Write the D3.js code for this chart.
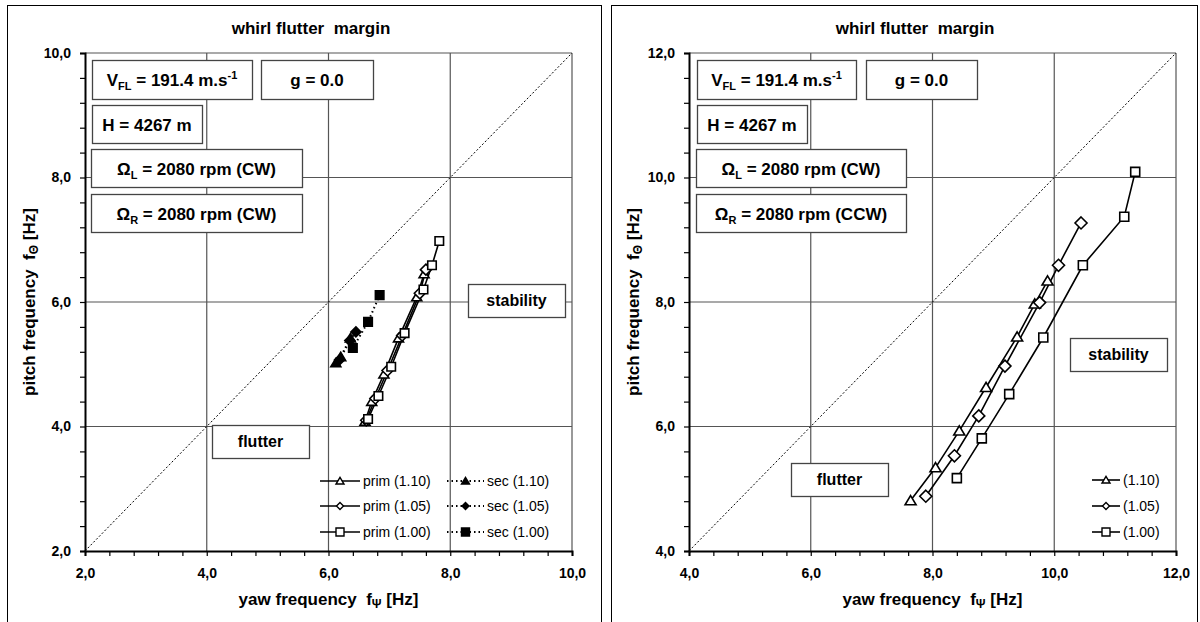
<!DOCTYPE html>
<html><head><meta charset="utf-8">
<script src="https://cdn.jsdelivr.net/npm/d3@7"></script>
<style>
html,body{margin:0;padding:0;background:#fff;}
svg{display:block;font-family:"Liberation Sans",Arial,sans-serif;}
</style></head><body>
<svg id="c" width="1200" height="622"></svg>
<script>
// ---------- DATA ----------
const leftXTicks = [2, 4, 6, 8, 10];
const leftYTicks = [2, 4, 6, 8, 10];
const rightXTicks = [4, 6, 8, 10, 12];
const rightYTicks = [4, 6, 8, 10, 12];

// left chart: CW/CW  [yaw Hz, pitch Hz]
const L_prim110 = [[6.60,4.08],[6.71,4.40],[6.91,4.84],[7.15,5.42],[7.45,6.08],[7.57,6.45]];
const L_prim105 = [[6.62,4.10],[6.77,4.45],[6.97,4.90],[7.21,5.46],[7.50,6.14],[7.60,6.52]];
const L_prim100 = [[6.65,4.12],[6.82,4.49],[7.03,4.96],[7.25,5.50],[7.56,6.20],[7.70,6.59],[7.82,6.98]];
const L_sec110 = [[6.12,5.02],[6.20,5.12],[6.36,5.42]];
const L_sec105 = [[6.18,5.07],[6.35,5.38],[6.45,5.52]];
const L_sec100 = [[6.40,5.26],[6.65,5.68],[6.84,6.11]];

// right chart: CW/CCW
const R_s110 = [[7.64,4.81],[8.05,5.34],[8.44,5.93],[8.88,6.63],[9.39,7.44],[9.68,7.97],[9.89,8.34]];
const R_s105 = [[7.89,4.88],[8.36,5.53],[8.76,6.17],[9.19,6.97],[9.76,7.99],[10.07,8.59],[10.44,9.27]];
const R_s100 = [[8.40,5.17],[8.81,5.81],[9.26,6.52],[9.82,7.43],[10.47,8.59],[11.15,9.37],[11.33,10.09]];

const leftLegend = ["prim (1.10)", "prim (1.05)", "prim (1.00)", "sec (1.10)", "sec (1.05)", "sec (1.00)"];
const rightLegend = ["(1.10)", "(1.05)", "(1.00)"];
const titleText = "whirl flutter  margin";
const leftOmegaR = "2080 rpm (CW)";
const rightOmegaR = "2080 rpm (CCW)";

// ---------- DRAW ----------
const svg = d3.select("#c");
const fmt = d => d.toFixed(1).replace(".", ",");

function sym(type, s) {
  const p = d3.path();
  if (type === "square") { p.rect(-s/2, -s/2, s, s); }
  else if (type === "diamond") { p.moveTo(0,-s/2); p.lineTo(s/2,0); p.lineTo(0,s/2); p.lineTo(-s/2,0); p.closePath(); }
  else { p.moveTo(0,-s*0.45); p.lineTo(s/2,s*0.38); p.lineTo(-s/2,s*0.38); p.closePath(); }
  return p.toString();
}

function panel(cfg) {
  const g = svg.append("g");
  // panel frame
  g.append("rect").attr("x", cfg.px + 0.5).attr("y", 5.5).attr("width", cfg.pw).attr("height", 640)
    .attr("fill", "none").attr("stroke", "#000").attr("stroke-width", 1);

  const x = d3.scaleLinear().domain(cfg.dom).range([cfg.x0, cfg.x1]);
  const y = d3.scaleLinear().domain(cfg.dom).range([551, 53]);

  // grid
  const grid = g.append("g").attr("stroke", "#555").attr("stroke-width", 1.2);
  cfg.xt.slice(1).forEach(v => grid.append("line").attr("x1", x(v)).attr("x2", x(v)).attr("y1", y.range()[0]).attr("y2", y.range()[1]));
  cfg.yt.slice(1).forEach(v => grid.append("line").attr("y1", y(v)).attr("y2", y(v)).attr("x1", cfg.x0).attr("x2", cfg.x1));

  // diagonal
  g.append("line").attr("x1", x(cfg.dom[0])).attr("y1", y(cfg.dom[0])).attr("x2", x(cfg.dom[1])).attr("y2", y(cfg.dom[1]))
    .attr("stroke", "#000").attr("stroke-width", 1).attr("stroke-dasharray", "2,2");

  // title
  g.append("text").attr("x", cfg.tx).attr("y", 34).attr("text-anchor", "middle")
    .attr("font-size", 17).attr("font-weight", "bold").style("white-space", "pre").text(titleText);

  // text boxes
  function box(bx, by, bw, bh, build) {
    g.append("rect").attr("x", bx + 0.5).attr("y", by + 0.5).attr("width", bw).attr("height", bh)
      .attr("fill", "#fff").attr("stroke", "#444").attr("stroke-width", 1.3);
    const t = g.append("text").attr("x", bx + bw / 2).attr("y", by + bh / 2 + 6.5).attr("text-anchor", "middle")
      .attr("font-size", 17).attr("font-weight", "bold");
    build(t);
  }
  const b = cfg.boxes;
  box(b.v[0], 60, b.v[1], 39, t => { t.append("tspan").text("V"); t.append("tspan").attr("font-size", 11).attr("dy", 4).text("FL"); t.append("tspan").attr("dy", -4).text(" = 191.4 m.s"); t.append("tspan").attr("font-size", 11).attr("dy", -7).text("-1"); });
  box(b.g[0], 60, b.g[1], 39, t => t.text("g = 0.0"));
  box(b.h[0], 105, b.h[1], 38, t => t.text("H = 4267 m"));
  box(b.o[0], 149, b.o[1], 38, t => { t.append("tspan").text("Ω"); t.append("tspan").attr("font-size", 11).attr("dy", 4).text("L"); t.append("tspan").attr("dy", -4).text(" = 2080 rpm (CW)"); });
  box(b.o[0], 194, b.o[1], 38, t => { t.append("tspan").text("Ω"); t.append("tspan").attr("font-size", 11).attr("dy", 4).text("R"); t.append("tspan").attr("dy", -4).text(" = " + cfg.omegaR); });
  box(b.st[0], b.st[1], 97, 33, t => t.attr("font-size", 16).attr("y", b.st[1] + 22).text("stability"));
  box(b.fl[0], b.fl[1], 97, 33, t => t.attr("font-size", 16).attr("y", b.fl[1] + 22).text("flutter"));

  const line = d3.line().x(d => x(d[0])).y(d => y(d[1]));
  // series
  cfg.series.forEach(s => {
    g.append("path").attr("d", line(s.data)).attr("fill", "none").attr("stroke", "#000")
      .attr("stroke-width", s.dotted ? 2 : 1.6).attr("stroke-dasharray", s.dotted ? "1.5,3" : null);
  });
  cfg.series.forEach(s => {
    g.selectAll(null).data(s.data).enter().append("path")
      .attr("transform", d => `translate(${x(d[0])},${y(d[1])})`)
      .attr("d", sym(s.shape, s.size))
      .attr("fill", s.dotted ? "#000" : "#fff").attr("stroke", "#000").attr("stroke-width", 1.6);
  });

  // legend
  cfg.legend.forEach(l => {
    const lg = g.append("g").attr("transform", `translate(${l.x},${l.y})`);
    lg.append("line").attr("x1", 0).attr("x2", l.len).attr("stroke", "#000")
      .attr("stroke-width", l.dotted ? 2 : 1.6).attr("stroke-dasharray", l.dotted ? "1.5,3" : null);
    lg.append("path").attr("transform", `translate(${l.len / 2},0)`).attr("d", sym(l.shape, l.size))
      .attr("fill", l.dotted ? "#000" : "#fff").attr("stroke", "#000").attr("stroke-width", 1.4);
    lg.append("text").attr("x", l.len + 3).attr("y", 5).attr("font-size", 14).text(l.label);
  });

  // axes
  const xMinor = d3.range(cfg.dom[0], cfg.dom[1] + 0.001, 0.4);
  const ax = g.append("g").attr("transform", "translate(0,551)")
    .call(d3.axisBottom(x).tickValues(xMinor).tickSize(5).tickFormat(""));
  const ay = g.append("g").attr("transform", `translate(${cfg.x0},0)`)
    .call(d3.axisLeft(y).tickValues(xMinor).tickSize(5).tickFormat(""));
  [ax, ay].forEach(a => { a.select(".domain").attr("stroke-width", 2); a.selectAll(".tick line").attr("stroke-width", 1.2); });
  const axL = g.append("g").attr("transform", "translate(0,551)")
    .call(d3.axisBottom(x).tickValues(cfg.xt).tickSize(0).tickPadding(17).tickFormat(fmt));
  axL.select(".domain").remove();
  axL.selectAll("text").attr("font-size", 14).attr("font-weight", "bold").attr("font-family", "Liberation Sans, Arial, sans-serif").attr("fill", "#000");
  const ayL = g.append("g").attr("transform", `translate(${cfg.x0},0)`)
    .call(d3.axisLeft(y).tickValues(cfg.yt).tickSize(0).tickPadding(14).tickFormat(fmt));
  ayL.select(".domain").remove();
  ayL.selectAll("text").attr("font-size", 14).attr("font-weight", "bold").attr("font-family", "Liberation Sans, Arial, sans-serif").attr("fill", "#000");

  // axis titles
  const xl = g.append("text").attr("x", (cfg.x0 + cfg.x1) / 2).attr("y", 605).attr("text-anchor", "middle")
    .attr("font-size", 17).attr("font-weight", "bold").style("white-space", "pre");
  xl.append("tspan").text("yaw frequency  f");
  xl.append("tspan").attr("font-size", 12).attr("dy", 3).text("Ψ");
  xl.append("tspan").attr("dy", -3).text(" [Hz]");
  const yl = g.append("text").attr("transform", `translate(${cfg.px + 28},302) rotate(-90)`).attr("text-anchor", "middle")
    .attr("font-size", 17).attr("font-weight", "bold").style("white-space", "pre");
  yl.append("tspan").text("pitch frequency  f");
  yl.append("tspan").attr("font-size", 12).attr("dy", 3).text("Θ");
  yl.append("tspan").attr("dy", -3).text(" [Hz]");
}

panel({
  px: 7, pw: 594, dom: [2, 10], x0: 85, x1: 572, xt: leftXTicks, yt: leftYTicks, tx: 311,
  omegaR: leftOmegaR,
  boxes: { v: [92, 160], g: [261, 112], h: [92, 110], o: [91, 211], st: [468, 284], fl: [212, 425] },
  series: [
    { data: L_prim110, shape: "triangle", size: 10, dotted: false },
    { data: L_prim105, shape: "diamond", size: 11, dotted: false },
    { data: L_prim100, shape: "square", size: 8.5, dotted: false },
    { data: L_sec110, shape: "triangle", size: 10, dotted: true },
    { data: L_sec105, shape: "diamond", size: 10, dotted: true },
    { data: L_sec100, shape: "square", size: 8.5, dotted: true }
  ],
  legend: [
    { x: 320, y: 481, len: 40, shape: "triangle", size: 8, dotted: false, label: leftLegend[0] },
    { x: 320, y: 506, len: 40, shape: "diamond", size: 7, dotted: false, label: leftLegend[1] },
    { x: 320, y: 532, len: 40, shape: "square", size: 8, dotted: false, label: leftLegend[2] },
    { x: 447, y: 481, len: 37, shape: "triangle", size: 8, dotted: true, label: leftLegend[3] },
    { x: 447, y: 506, len: 37, shape: "diamond", size: 7, dotted: true, label: leftLegend[4] },
    { x: 447, y: 532, len: 37, shape: "square", size: 8, dotted: true, label: leftLegend[5] }
  ]
});

panel({
  px: 611, pw: 586, dom: [4, 12], x0: 689, x1: 1176, xt: rightXTicks, yt: rightYTicks, tx: 915,
  omegaR: rightOmegaR,
  boxes: { v: [697, 159], g: [866, 111], h: [697, 110], o: [696, 210], st: [1070, 338], fl: [791, 463] },
  series: [
    { data: R_s110, shape: "triangle", size: 11, dotted: false },
    { data: R_s105, shape: "diamond", size: 12, dotted: false },
    { data: R_s100, shape: "square", size: 9, dotted: false }
  ],
  legend: [
    { x: 1092, y: 480, len: 28, shape: "triangle", size: 8, dotted: false, label: rightLegend[0] },
    { x: 1092, y: 506, len: 28, shape: "diamond", size: 7, dotted: false, label: rightLegend[1] },
    { x: 1092, y: 532, len: 28, shape: "square", size: 8, dotted: false, label: rightLegend[2] }
  ]
});
</script>
</body></html>
